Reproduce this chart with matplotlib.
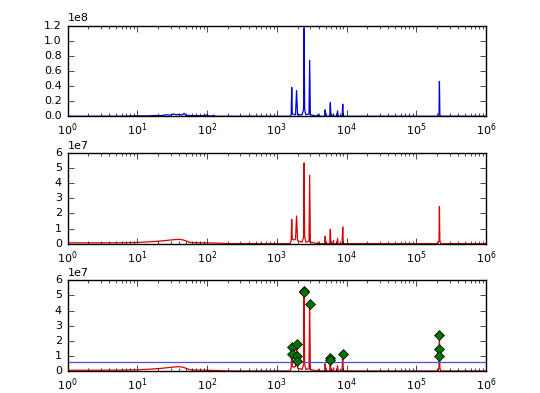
import matplotlib
matplotlib.use('Agg')
import matplotlib.pyplot as plt

# spectrum (top panel, blue)
top_freq = [1, 5, 8, 10, 14, 18, 22, 26, 30, 33, 36, 40, 44, 47, 50, 55, 60, 70, 80, 95, 100, 105,
            120, 125, 130, 1550, 1610, 1640, 1670, 1860, 1923, 1990, 2300, 2380, 2430, 2470, 2510,
            2560, 2620, 2900, 2963, 3030, 3800, 3890, 3980, 4850, 4945, 5050, 5750, 5860, 5970,
            6400, 6490, 6580, 7300, 7440, 7580, 8650, 8830, 9000, 10000, 205000, 212000, 215000,
            218000, 225000, 1000000]
top_vals = [0.0, 0.0, 0.003, 0.006, 0.004, 0.01, 0.008, 0.02, 0.015, 0.03, 0.02, 0.025, 0.015,
            0.04, 0.01, 0.012, 0.008, 0.01, 0.006, 0.012, 0.02, 0.005, 0.003, 0.015, 0.0, 0.0,
            0.02, 0.38, 0.03, 0.02, 0.34, 0.02, 0.02, 0.06, 0.1, 1.17, 0.1, 0.05, 0.02, 0.03, 0.74,
            0.02, 0.0, 0.025, 0.0, 0.0, 0.085, 0.0, 0.0, 0.18, 0.0, 0.0, 0.03, 0.0, 0.0, 0.07, 0.0,
            0.0, 0.16, 0.0, 0.0, 0.0, 0.02, 0.46, 0.02, 0.0, 0.0]

# spectrum (middle and bottom panels, red)
red_freq = [1, 3, 6, 10, 15, 20, 25, 30, 35, 40, 45, 50, 55, 60, 70, 100, 150, 200, 1550, 1610,
            1640, 1670, 1760, 1860, 1923, 1990, 2300, 2380, 2430, 2470, 2510, 2560, 2620, 2900,
            2963, 3030, 3800, 3890, 3980, 4850, 4945, 5050, 5750, 5860, 5970, 6400, 6490, 6580,
            7300, 7440, 7580, 8650, 8830, 9000, 10000, 205000, 212000, 215000, 218000, 225000,
            1000000]
red_vals = [0.05, 0.05, 0.06, 0.08, 0.12, 0.16, 0.2, 0.24, 0.27, 0.28, 0.25, 0.18, 0.1, 0.07,
            0.06, 0.05, 0.03, 0.0, 0.0, 0.2, 1.6, 0.3, 0.25, 0.3, 1.83, 0.2, 0.1, 0.3, 0.5, 5.34,
            0.5, 0.3, 0.1, 0.15, 4.52, 0.1, 0.0, 0.1, 0.0, 0.0, 0.48, 0.0, 0.0, 0.94, 0.0, 0.0,
            0.2, 0.0, 0.0, 0.34, 0.0, 0.0, 1.1, 0.0, 0.0, 0.0, 0.2, 2.44, 0.2, 0.0, 0.0]

# detected peaks (bottom panel) and threshold
peak_freq = [1640, 1640, 1923, 1923, 1923, 2470, 2470, 2963, 5860, 5860, 8830, 215000, 215000, 215000]
peak_vals = [1.58, 1.1, 1.79, 0.99, 0.66, 5.27, 5.2, 4.46, 0.86, 0.75, 1.1, 2.38, 1.47, 1.02]
threshold = 0.58

plt.style.use('classic')
plt.rcParams['font.size'] = 8
plt.rcParams['figure.facecolor'] = 'white'

fig = plt.figure(figsize=(5.4, 3.93), dpi=100)
fig.subplots_adjust(left=0.125, right=0.9, top=0.935, bottom=0.056, hspace=0.404)

ax1 = fig.add_subplot(311)
ax1.plot(top_freq, [v * 1e8 for v in top_vals], color=(0, 0, 0.85), linewidth=0.9)
ax1.set_xscale('log')
ax1.set_xlim(1, 1e6)
ax1.set_ylim(0, 1.2e8)

ax2 = fig.add_subplot(312)
ax2.plot(red_freq, [v * 1e7 for v in red_vals], color=(0.85, 0, 0), linewidth=0.9)
ax2.set_xscale('log')
ax2.set_xlim(1, 1e6)
ax2.set_ylim(0, 6e7)

ax3 = fig.add_subplot(313)
ax3.plot(red_freq, [v * 1e7 for v in red_vals], color=(0.85, 0, 0), linewidth=0.9)
ax3.axhline(threshold * 1e7, color=(0.3, 0.3, 0.9), linewidth=0.9)
ax3.plot(peak_freq, [v * 1e7 for v in peak_vals], 'D', color=(0, 0.45, 0),
         markersize=5, markeredgewidth=0.5, markeredgecolor='k')
ax3.set_xscale('log')
ax3.set_xlim(1, 1e6)
ax3.set_ylim(0, 6e7)

plt.savefig('out.png', dpi=100)
